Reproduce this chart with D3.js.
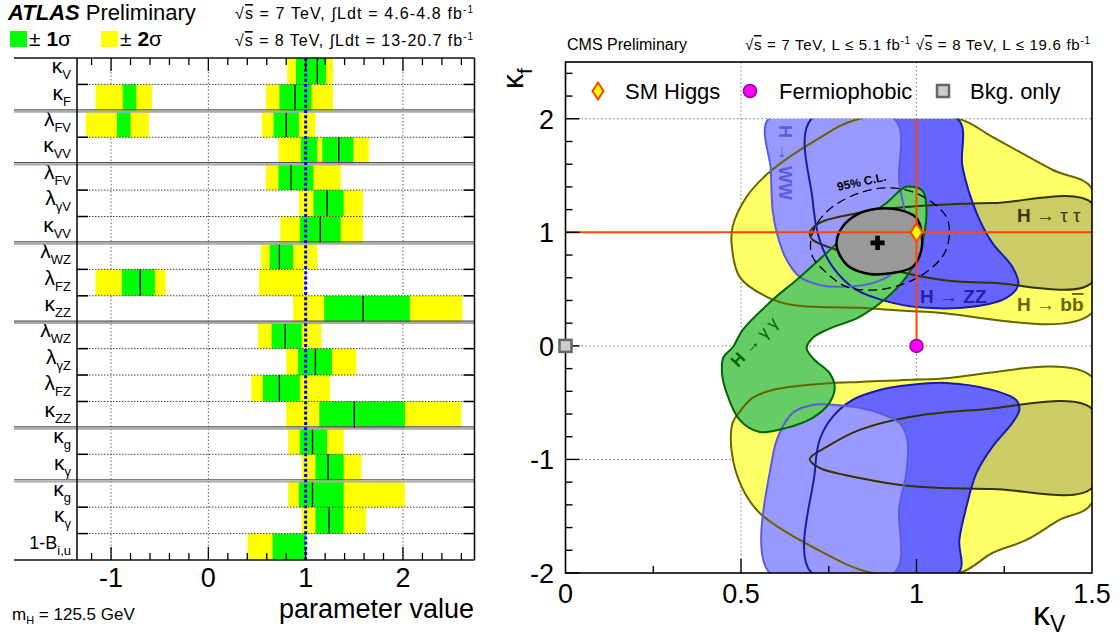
<!DOCTYPE html>
<html><head><meta charset="utf-8">
<script src="https://cdn.jsdelivr.net/npm/d3@7/dist/d3.min.js"></script>
<style>
body{margin:0;background:#fff;}
svg{display:block;font-family:"Liberation Sans",Arial,Helvetica,sans-serif;}
</style></head><body>
<svg id="chart" width="1120" height="643"></svg>
<script>
// ================= ATLAS (left) data =================
const paramSym   = ["κ","κ","λ","κ","λ","λ","κ","λ","λ","κ","λ","λ","λ","κ","κ","κ","κ","κ","1-B"];
const paramSub   = ["V","F","FV","VV","FV","γV","VV","WZ","FZ","ZZ","WZ","γZ","FZ","ZZ","g","γ","g","γ","i,u"];
const paramGroup = [0,0,1,1,2,2,2,3,3,3,4,4,4,4,5,5,6,6,6];
const bestFit    = [1.12,0.89,0.80,1.34,0.85,1.22,1.15,0.73,-0.70,1.59,0.79,1.10,0.73,1.50,1.07,1.23,1.07,1.24,null];
const band2s = [
  [[0.81,1.28]], [[-1.16,-0.58],[0.59,1.28]], [[-1.26,-0.61],[0.55,1.10]], [[0.72,1.65]],
  [[0.59,1.36]], [[0.93,1.59]], [[0.74,1.59]],
  [[0.54,1.12]], [[-1.16,-0.44],[0.52,0.98]], [[0.87,2.61]],
  [[0.51,1.16]], [[0.80,1.52]], [[0.44,1.25]], [[0.80,2.60]],
  [[0.82,1.39]], [[0.96,1.57]],
  [[0.82,2.02]], [[0.96,1.62]], [[0.40,1.00]]
];
const band1s = [
  [[0.90,1.21]], [[-0.88,-0.74],[0.73,1.06]], [[-0.94,-0.80],[0.67,0.93]], [[0.95,1.12],[1.17,1.49]],
  [[0.72,1.08]], [[1.08,1.39]], [[0.94,1.36]],
  [[0.63,0.87]], [[-0.89,-0.55]], [[1.19,2.07]],
  [[0.65,0.96]], [[0.92,1.27]], [[0.56,0.94]], [[1.14,2.02]],
  [[0.94,1.22]], [[1.10,1.39]],
  [[0.93,1.39]], [[1.10,1.39]], [[0.66,1.00]]
];
const atlasTicks = [-1,0,1,2];
const smValue = 1;

// ================= CMS (right) data =================
const cmsXTicks = [0,0.5,1,1.5];
const cmsYTicks = [-2,-1,0,1,2];
const bbUpper = [[0.838,2.0],[1.119,2.0],[1.216,1.841],[1.387,1.551],[1.5,1.383],[1.5,0.291],[1.028,0.30],[0.838,0.335],[0.647,0.361],[0.573,0.432],[0.496,0.608],[0.474,0.872],[0.476,1.048],[0.516,1.313],[0.582,1.533],[0.715,1.815]];
const bbLower = [[0.474,-0.943],[0.476,-0.678],[0.496,-0.581],[0.533,-0.458],[0.590,-0.388],[0.667,-0.352],[0.761,-0.326],[0.838,-0.317],[1.057,-0.291],[1.5,-0.273],[1.5,-1.383],[1.407,-1.533],[1.313,-1.709],[1.216,-1.824],[1.122,-2.0],[0.875,-2.0],[0.704,-1.771],[0.553,-1.471],[0.502,-1.242]];
const ttUpper = [[0.696,0.996],[0.724,1.084],[0.838,1.172],[0.980,1.225],[1.216,1.258],[1.5,1.258],[1.5,0.558],[1.216,0.555],[1.074,0.581],[0.932,0.670],[0.789,0.828],[0.704,0.934]];
const ttLower = [[0.696,-0.996],[0.744,-0.890],[0.838,-0.740],[0.980,-0.626],[1.171,-0.564],[1.5,-0.555],[1.5,-1.251],[1.216,-1.260],[0.980,-1.233],[0.838,-1.163],[0.724,-1.075]];
const zzUpper = [[0.701,2.0],[1.117,2.0],[1.131,1.577],[1.171,1.172],[1.216,0.907],[1.273,0.696],[1.290,0.537],[1.256,0.423],[1.159,0.344],[1.028,0.335],[0.932,0.379],[0.829,0.493],[0.761,0.696],[0.724,0.934],[0.704,1.286]];
const zzLower = [[0.701,-2.0],[0.710,-1.119],[0.724,-0.828],[0.761,-0.626],[0.818,-0.476],[0.895,-0.388],[0.980,-0.344],[1.085,-0.326],[1.216,-0.388],[1.284,-0.476],[1.293,-0.564],[1.273,-0.678],[1.216,-0.890],[1.171,-1.119],[1.142,-1.419],[1.122,-1.709],[1.119,-2.0]];
const wwUpper = [[0.579,2.0],[0.937,2.0],[0.951,1.436],[0.974,0.996],[0.951,0.696],[0.886,0.564],[0.772,0.520],[0.724,0.537],[0.667,0.608],[0.630,0.758],[0.602,0.996],[0.590,1.198],[0.585,1.551]];
const wwLower = [[0.582,-2.0],[0.590,-0.978],[0.610,-0.767],[0.647,-0.590],[0.704,-0.520],[0.772,-0.520],[0.866,-0.564],[0.951,-0.678],[0.974,-0.828],[0.971,-1.119],[0.951,-1.419],[0.937,-2.0]];
const ggBand = [[0.971,1.401],[1.017,1.366],[1.028,1.225],[1.023,0.996],[1.003,0.784],[0.971,0.608],[0.915,0.423],[0.838,0.256],[0.744,0.141],[0.704,0.070],[0.687,-0.018],[0.704,-0.106],[0.716,-0.141],[0.752,-0.238],[0.767,-0.361],[0.752,-0.502],[0.704,-0.634],[0.630,-0.722],[0.553,-0.758],[0.496,-0.652],[0.459,-0.414],[0.446,-0.24],[0.450,-0.10],[0.477,-0.01],[0.505,0.141],[0.590,0.405],[0.658,0.581],[0.744,0.819],[0.838,1.084],[0.915,1.260]];
const comb68 = [[0.772,0.907],[0.789,1.048],[0.829,1.154],[0.886,1.207],[0.951,1.198],[1.000,1.128],[1.014,0.996],[1.014,0.846],[0.989,0.696],[0.932,0.643],[0.866,0.634],[0.809,0.696],[0.781,0.802]];
const comb95 = [[0.699,0.934],[0.718,1.084],[0.761,1.225],[0.838,1.348],[0.915,1.392],[0.989,1.357],[1.046,1.260],[1.085,1.137],[1.094,0.996],[1.080,0.819],[1.037,0.670],[0.971,0.555],[0.886,0.493],[0.801,0.520],[0.744,0.643],[0.704,0.784]];
const bestPoint = [0.889,0.907];
const smPoint = [1,1];
const fermioPoint = [1,0];
const bkgPoint = [0,0];

const svg = d3.select("#chart");

// ================= LEFT PANEL =================
const xL = d3.scaleLinear().domain([-1.35, 2.735]).range([77, 474.5]);
const yL = d3.scaleBand().domain(d3.range(paramSym.length)).range([58, 560]);
const L = svg.append("g");
const lx0 = xL.range()[0], lx1 = xL.range()[1], ly0 = 58, ly1 = 560;

L.selectAll(".vg").data(atlasTicks).join("line")
  .attr("x1", d => xL(d)).attr("x2", d => xL(d)).attr("y1", ly0).attr("y2", ly1)
  .attr("stroke", "#666").attr("stroke-width", 1).attr("stroke-dasharray", "1.5,2");

paramSym.forEach((s, i) => {
  const y = yL(i), h = yL.bandwidth();
  L.selectAll(null).data(band2s[i]).join("rect")
    .attr("x", d => xL(d[0])).attr("width", d => xL(d[1]) - xL(d[0]))
    .attr("y", y).attr("height", h).attr("fill", "#ffff00");
  L.selectAll(null).data(band1s[i]).join("rect")
    .attr("x", d => xL(d[0])).attr("width", d => xL(d[1]) - xL(d[0]))
    .attr("y", y).attr("height", h).attr("fill", "#00ff00");
  if (bestFit[i] !== null) {
    L.append("line").attr("x1", xL(bestFit[i])).attr("x2", xL(bestFit[i]))
      .attr("y1", y).attr("y2", y + h).attr("stroke", "#000").attr("stroke-width", 1.3);
  }
  const t = L.append("text").attr("x", 71).attr("y", y + h / 2 + 2)
    .attr("text-anchor", "end").attr("fill", "#000");
  t.append("tspan").attr("font-size", s.length > 1 ? 18 : 21).text(s);
  t.append("tspan").attr("font-size", 13).attr("dy", 6).text(paramSub[i]);
});

d3.range(1, paramSym.length).forEach(i => {
  const y = yL(i);
  if (paramGroup[i] !== paramGroup[i - 1]) {
    L.append("line").attr("x1", 14).attr("x2", lx1).attr("y1", y - 1).attr("y2", y - 1)
      .attr("stroke", "#555").attr("stroke-width", 1.2);
    L.append("line").attr("x1", 14).attr("x2", lx1).attr("y1", y + 0.8).attr("y2", y + 0.8)
      .attr("stroke", "#aaa").attr("stroke-width", 2);
  } else {
    L.append("line").attr("x1", lx0).attr("x2", lx1).attr("y1", y).attr("y2", y)
      .attr("stroke", "#444").attr("stroke-width", 1).attr("stroke-dasharray", "1.5,1.5");
    L.append("line").attr("x1", lx0).attr("x2", lx0 + 11).attr("y1", y).attr("y2", y)
      .attr("stroke", "#000").attr("stroke-width", 1.5);
    L.append("line").attr("x1", lx1 - 11).attr("x2", lx1).attr("y1", y).attr("y2", y)
      .attr("stroke", "#000").attr("stroke-width", 1.5);
  }
});

L.append("line").attr("x1", xL(smValue)).attr("x2", xL(smValue)).attr("y1", ly0).attr("y2", ly1)
  .attr("stroke", "#0000ff").attr("stroke-width", 3).attr("stroke-dasharray", "3,2.2");

[[14, ly0, lx1, ly0], [14, ly1, lx1, ly1], [lx0, ly0, lx0, ly1], [lx1, ly0, lx1, ly1]].forEach(c =>
  L.append("line").attr("x1", c[0]).attr("y1", c[1]).attr("x2", c[2]).attr("y2", c[3])
    .attr("stroke", "#111").attr("stroke-width", 1.6));

const lticks = d3.range(-6, 14).map(k => k * 0.2);
lticks.forEach(v => {
  const major = Math.abs(v - Math.round(v)) < 1e-6;
  const len = major ? 13 : 7;
  L.append("line").attr("x1", xL(v)).attr("x2", xL(v)).attr("y1", ly0).attr("y2", ly0 + len)
    .attr("stroke", "#000").attr("stroke-width", 1.3);
  L.append("line").attr("x1", xL(v)).attr("x2", xL(v)).attr("y1", ly1).attr("y2", ly1 - len)
    .attr("stroke", "#000").attr("stroke-width", 1.3);
});
L.selectAll(".xl").data(atlasTicks).join("text")
  .attr("x", d => xL(d)).attr("y", 587).attr("text-anchor", "middle")
  .attr("font-size", 27).text(d => d < 0 ? "-" + Math.abs(d) : d);

L.append("text").attr("x", 474).attr("y", 618).attr("text-anchor", "end").attr("font-size", 27)
  .text("parameter value");
L.append("text").attr("x", 12).attr("y", 620).attr("font-size", 17)
  .html('m<tspan font-size="11" dy="4">H</tspan><tspan dy="-4"> = 125.5 GeV</tspan>');

// header
L.append("text").attr("x", 8).attr("y", 20).attr("font-size", 22)
  .html('<tspan font-weight="bold" font-style="italic">ATLAS</tspan> Preliminary');
L.append("text").attr("x", 473).attr("y", 19).attr("text-anchor", "end").attr("font-size", 16)
  .attr("textLength", 238).attr("lengthAdjust", "spacing")
  .html('√<tspan text-decoration="overline">s</tspan> = 7 TeV, ∫Ldt = 4.6-4.8 fb<tspan font-size="10" dy="-6">-1</tspan>');
L.append("text").attr("x", 473).attr("y", 46).attr("text-anchor", "end").attr("font-size", 16)
  .attr("textLength", 238).attr("lengthAdjust", "spacing")
  .html('√<tspan text-decoration="overline">s</tspan> = 8 TeV, ∫Ldt = 13-20.7 fb<tspan font-size="10" dy="-6">-1</tspan>');
L.append("rect").attr("x", 10).attr("y", 31).attr("width", 17).attr("height", 16).attr("fill", "#00ff00");
L.append("rect").attr("x", 101).attr("y", 31).attr("width", 17).attr("height", 16).attr("fill", "#ffff00");
L.append("text").attr("x", 29).attr("y", 46).attr("font-size", 21)
  .html('± <tspan font-weight="bold">1</tspan>σ');
L.append("text").attr("x", 120).attr("y", 46).attr("font-size", 21)
  .html('± <tspan font-weight="bold">2</tspan>σ');

// ================= RIGHT PANEL =================
const xR = d3.scaleLinear().domain([0, 1.5]).range([565.5, 1092]);
const yR = d3.scaleLinear().domain([-2, 2.5]).range([573, 62]);
const R = svg.append("g");
const rx0 = xR(0), rx1 = xR(1.5), ry0 = yR(2.5), ry1 = yR(-2);

R.selectAll(".gv").data([0.5, 1]).join("line")
  .attr("x1", d => xR(d)).attr("x2", d => xR(d)).attr("y1", ry0).attr("y2", ry1)
  .attr("stroke", "#777").attr("stroke-dasharray", "1.5,2.5");
R.selectAll(".gh").data([-1, 0, 1, 2]).join("line")
  .attr("x1", rx0).attr("x2", rx1).attr("y1", d => yR(d)).attr("y2", d => yR(d))
  .attr("stroke", "#777").attr("stroke-dasharray", "1.5,2.5");

svg.append("clipPath").attr("id", "cmsclip").append("rect")
  .attr("x", rx0).attr("y", yR(2)).attr("width", rx1 - rx0).attr("height", ry1 - yR(2));

const path = d3.line().x(d => xR(d[0])).y(d => yR(d[1])).curve(d3.curveCatmullRomClosed.alpha(0.5));
const C = R.append("g").attr("clip-path", "url(#cmsclip)");

const layers = [
  {pts: bbUpper, fill: "#ffff66", stroke: "#666600"},
  {pts: bbLower, fill: "#ffff66", stroke: "#666600"},
  {pts: ttUpper, fill: "#cccc66", stroke: "#333300"},
  {pts: ttLower, fill: "#cccc66", stroke: "#333300"},
  {pts: zzUpper, fill: "#6666ff", stroke: "#1a1aaa"},
  {pts: zzLower, fill: "#6666ff", stroke: "#1a1aaa"},
  {pts: wwUpper, fill: "#9999ff", stroke: "#5c5cdd"},
  {pts: wwLower, fill: "#9999ff", stroke: "#5c5cdd"},
  {pts: ggBand, fill: "#66cc66", stroke: "#006600"}
];
layers.forEach(l => C.append("path").attr("d", path(l.pts)).attr("fill", l.fill).attr("stroke", "none"));
layers.forEach(l => C.append("path").attr("d", path(l.pts)).attr("fill", "none").attr("stroke", l.stroke).attr("stroke-width", 2));
C.append("path").attr("d", path(comb68)).attr("fill", "#999999").attr("stroke", "#000").attr("stroke-width", 2.5);
C.append("path").attr("d", path(comb95)).attr("fill", "none").attr("stroke", "#000").attr("stroke-width", 1.3).attr("stroke-dasharray", "9,5");

R.append("line").attr("x1", rx0).attr("x2", rx1).attr("y1", yR(smPoint[1])).attr("y2", yR(smPoint[1]))
  .attr("stroke", "#ff4400").attr("stroke-width", 2);
R.append("line").attr("x1", xR(smPoint[0])).attr("x2", xR(smPoint[0])).attr("y1", yR(2)).attr("y2", yR(fermioPoint[1]))
  .attr("stroke", "#ff4400").attr("stroke-width", 2);

R.append("rect").attr("x", rx0).attr("y", ry0).attr("width", rx1 - rx0).attr("height", ry1 - ry0)
  .attr("fill", "none").attr("stroke", "#000").attr("stroke-width", 1.6);

d3.range(-10, 13).map(k => k * 0.2).forEach(v => {
  const major = Math.abs(v - Math.round(v)) < 1e-6;
  R.append("line").attr("x1", rx0).attr("x2", rx0 + (major ? 14 : 7)).attr("y1", yR(v)).attr("y2", yR(v))
    .attr("stroke", "#000").attr("stroke-width", 1.4);
});
d3.range(1, 6).map(k => k * 0.25).forEach(v => {
  const major = Math.abs(v * 2 - Math.round(v * 2)) < 1e-6;
  R.append("line").attr("x1", xR(v)).attr("x2", xR(v)).attr("y1", ry1).attr("y2", ry1 - (major ? 14 : 7))
    .attr("stroke", "#000").attr("stroke-width", 1.4);
});
R.selectAll(".xt").data(cmsXTicks).join("text")
  .attr("x", d => xR(d)).attr("y", 603).attr("text-anchor", "middle").attr("font-size", 27).text(d => d);
R.selectAll(".yt").data(cmsYTicks).join("text")
  .attr("x", 554).attr("y", d => yR(d) + 10).attr("text-anchor", "end").attr("font-size", 27)
  .text(d => d < 0 ? "-" + Math.abs(d) : d);

R.append("text").attr("x", 1033).attr("y", 625).attr("font-size", 34)
  .html('κ<tspan font-size="23" dy="7">V</tspan>');
R.append("text").attr("transform", "translate(523,89) rotate(-90)").attr("font-size", 30)
  .html('κ<tspan font-size="21" dy="9">f</tspan>');

const dia = (cx, cy, w, h) => `M${cx},${cy - h}L${cx + w},${cy}L${cx},${cy + h}L${cx - w},${cy}Z`;
R.append("path").attr("d", d3.symbol(d3.symbolCross, 110)())
  .attr("transform", `translate(${xR(bestPoint[0])},${yR(bestPoint[1])})`).attr("fill", "#000");
R.append("path").attr("d", dia(xR(smPoint[0]), yR(smPoint[1]), 6, 9))
  .attr("fill", "#ffff00").attr("stroke", "#ff4400").attr("stroke-width", 2);
R.append("circle").attr("cx", xR(fermioPoint[0])).attr("cy", yR(fermioPoint[1])).attr("r", 6.5)
  .attr("fill", "#ff00ff").attr("stroke", "#990099").attr("stroke-width", 1.5);
R.append("rect").attr("x", xR(bkgPoint[0]) - 6).attr("y", yR(bkgPoint[1]) - 6).attr("width", 12).attr("height", 12)
  .attr("fill", "#cccccc").attr("stroke", "#666").attr("stroke-width", 2.5);

// legend
R.append("path").attr("d", dia(598, 91, 5.5, 8.5)).attr("fill", "#ffff00").attr("stroke", "#ff4400").attr("stroke-width", 2);
R.append("text").attr("x", 625).attr("y", 99).attr("font-size", 22).text("SM Higgs");
R.append("circle").attr("cx", 750).attr("cy", 91).attr("r", 6.5).attr("fill", "#ff00ff").attr("stroke", "#990099").attr("stroke-width", 1.5);
R.append("text").attr("x", 779).attr("y", 99).attr("font-size", 22).text("Fermiophobic");
R.append("rect").attr("x", 937).attr("y", 85).attr("width", 12).attr("height", 12).attr("fill", "#cccccc").attr("stroke", "#666").attr("stroke-width", 2.5);
R.append("text").attr("x", 970).attr("y", 99).attr("font-size", 22).text("Bkg. only");

// headers
R.append("text").attr("x", 567).attr("y", 50).attr("font-size", 16).text("CMS Preliminary");
R.append("text").attr("x", 1090).attr("y", 50).attr("text-anchor", "end").attr("font-size", 15)
  .attr("textLength", 345).attr("lengthAdjust", "spacing")
  .html('√<tspan text-decoration="overline">s</tspan> = 7 TeV, L ≤ 5.1 fb<tspan font-size="10" dy="-6">-1</tspan><tspan dy="6">  √</tspan><tspan text-decoration="overline">s</tspan> = 8 TeV, L ≤ 19.6 fb<tspan font-size="10" dy="-6">-1</tspan>');

// channel labels
R.append("text").attr("transform", "translate(779,125) rotate(90)").attr("font-size", 18).attr("fill", "#5c5cdd")
  .html('<tspan font-weight="bold">H</tspan> → <tspan font-weight="bold">WW</tspan>');
R.append("text").attr("transform", "translate(838,191) rotate(-12)").attr("font-size", 12).attr("font-weight", "bold")
  .text("95% C.L.");
R.append("text").attr("x", 1017).attr("y", 222).attr("font-size", 19).attr("fill", "#3a3a00")
  .html('<tspan font-weight="bold">H</tspan> → τ τ');
R.append("text").attr("x", 1017).attr("y", 311).attr("font-size", 19).attr("fill", "#666600")
  .html('<tspan font-weight="bold">H</tspan> → <tspan font-weight="bold">b</tspan><tspan font-weight="bold" text-decoration="overline">b</tspan>');
R.append("text").attr("x", 920).attr("y", 303).attr("font-size", 19).attr("fill", "#2222aa")
  .html('<tspan font-weight="bold">H</tspan> → <tspan font-weight="bold">ZZ</tspan>');
R.append("text").attr("transform", "translate(738,368) rotate(-47)").attr("font-size", 17).attr("fill", "#006600")
  .html('<tspan font-weight="bold">H</tspan> → γ γ');
</script>
</body></html>
